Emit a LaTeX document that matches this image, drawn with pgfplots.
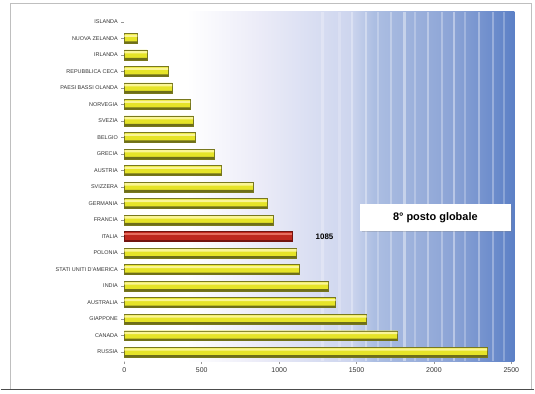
\documentclass[border=0pt]{standalone}
\usepackage{pgfplots}
\pgfplotsset{compat=1.18}
\usepackage{fontspec}
\setmainfont{Liberation Sans}
\usetikzlibrary{shadows}

\definecolor{axisgray}{RGB}{150,150,150}
\definecolor{bartop}{RGB}{250,245,150}
\definecolor{barmid}{RGB}{230,228,40}
\definecolor{barbot}{RGB}{110,110,25}
\definecolor{baredge}{RGB}{120,120,30}
\definecolor{redtop}{RGB}{230,110,95}
\definecolor{redmid}{RGB}{190,40,30}
\definecolor{redbot}{RGB}{115,20,15}
\definecolor{bgA}{RGB}{236,236,248}
\definecolor{bgB}{RGB}{205,213,238}
\definecolor{bgC}{RGB}{172,190,226}
\definecolor{bgD}{RGB}{140,164,214}
\definecolor{bgE}{RGB}{92,128,198}

% background: white on the left, deepening to blue on the right
\pgfdeclarehorizontalshading{bgshade}{100bp}{%
  color(0bp)=(white); color(25bp)=(white); color(33bp)=(white);
  color(42bp)=(bgA); color(54bp)=(bgB);
  color(57bp)=(bgC); color(67bp)=(bgD);
  color(75bp)=(bgE); color(100bp)=(bgE)}

\pgfplotstableread{
y  v
0  2344
1  1764
2  1565
3  1365
4  1316
5  1127
6  1113
8  959
9  921
10 831
11 625
12 580
13 457
14 444
15 425
16 309
17 283
18 148
19 84
}\others

\pgfplotstableread{
y v
7 1085
}\italia

\begin{document}
\begin{tikzpicture}
\begin{axis}[
  scale only axis,
  width=391bp, height=350bp,
  xmin=0, xmax=2520,
  ymin=-0.55, ymax=20.6,
  xbar, bar width=0.6, bar shift=0pt,
  axis lines*=left,
  axis line style={axisgray, line width=0.6pt},
  tick style={axisgray, line width=0.5pt},
  tick align=outside,
  major tick length=3bp,
  xtick={0,500,1000,1500,2000,2500},
  ytick={0,1,...,20},
  yticklabels={RUSSIA,CANADA,GIAPPONE,AUSTRALIA,INDIA,STATI UNITI D'AMERICA,POLONIA,ITALIA,FRANCIA,GERMANIA,SVIZZERA,AUSTRIA,GRECIA,BELGIO,SVEZIA,NORVEGIA,PAESI BASSI OLANDA,REPUBBLICA CECA,IRLANDA,NUOVA ZELANDA,ISLANDA},
  yticklabel style={font=\fontsize{5.5}{6}\selectfont, text=black!80},
  xticklabel style={font=\fontsize{7}{8}\selectfont, text=black!80},
  /pgf/number format/assume math mode=true,
  /pgf/number format/1000 sep={},
  clip=false,
]
  % shaded plot background with light vertical streaks
  \fill[shading=bgshade] (rel axis cs:0,0) rectangle (rel axis cs:1,1);
  \foreach \s/\o in {1280/0.25,1390/0.2,1470/0.3,1560/0.35,1640/0.25,1720/0.3,1810/0.4,1880/0.25,1960/0.35,2050/0.3,2130/0.4,2200/0.25,2290/0.35,2380/0.3,2450/0.25}{
    \edef\tmp{\noexpand\draw[white, opacity=\o, line width=2.2bp] (axis cs:\s,-0.55) -- (axis cs:\s,20.6);}
    \tmp
  }

  % yellow bars: body, light upper band, dark lower band
  \addplot[fill=barmid, draw=baredge, line width=0.3pt] table[x=v, y=y] {\others};
  \addplot[fill=bartop, draw=none, bar width=0.14, bar shift=0.16] table[x=v, y=y] {\others};
  \addplot[fill=barbot, draw=none, bar width=0.12, bar shift=-0.24] table[x=v, y=y] {\others};

  % highlighted bar
  \addplot[fill=redmid, draw=redbot, line width=0.3pt,
           nodes near coords,
           every node near coord/.append style={anchor=west, xshift=20bp,
             font=\bfseries\fontsize{8}{9}\selectfont, text=black}]
    table[x=v, y=y] {\italia};
  \addplot[fill=redtop, draw=none, bar width=0.14, bar shift=0.16] table[x=v, y=y] {\italia};
  \addplot[fill=redbot, draw=none, bar width=0.12, bar shift=-0.24] table[x=v, y=y] {\italia};

  \node[fill=white, draw=white, drop shadow={opacity=0.3, shadow xshift=1.5bp, shadow yshift=-1.5bp},
        minimum width=150bp, minimum height=26bp, inner sep=2bp,
        font=\bfseries\fontsize{11}{12}\selectfont]
    at (axis cs:2009,8.16) {8° posto globale};
\end{axis}
% outer frame of the chart
\draw[black!25, line width=0.5pt]
  ([shift={(-114bp,-28bp)}]current axis.south west) rectangle ([shift={(17bp,9bp)}]current axis.north east);
\draw[black!70, line width=1.2pt]
  ([shift={(-124bp,-28bp)}]current axis.south west) -- ([shift={(20bp,-28bp)}]current axis.south east);
\path ([shift={(-124bp,-32bp)}]current axis.south west) rectangle ([shift={(20bp,12bp)}]current axis.north east);
\end{tikzpicture}
\end{document}
